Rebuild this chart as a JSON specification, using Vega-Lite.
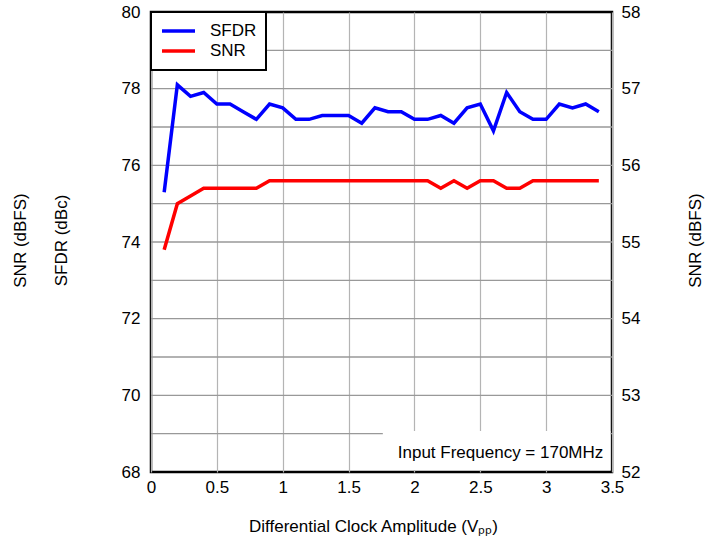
{
  "$schema": "https://vega.github.io/schema/vega-lite/v6.json",
  "width": 461,
  "height": 460,
  "autosize": "none",
  "padding": {"left": 151, "top": 12, "right": 104, "bottom": 66},
  "background": "white",
  "config": {
    "view": {"stroke": "black", "strokeWidth": 2.5},
    "font": "Liberation Sans",
    "axis": {
      "labelFont": "Liberation Sans",
      "labelFontSize": 17,
      "labelColor": "black",
      "titleFont": "Liberation Sans",
      "titleFontSize": 17,
      "titleFontWeight": "normal",
      "titleColor": "black",
      "ticks": false,
      "domain": false,
      "gridColor": "#b4b4b4",
      "gridWidth": 1.2,
      "gridOpacity": 1
    },
    "legend": {
      "labelFont": "Liberation Sans",
      "labelFontSize": 17,
      "labelColor": "black",
      "strokeWidth": 2
    }
  },
  "datasets": {
    "curves": [
      {"x": 0.1, "SFDR": 75.3, "SNR": 54.9},
      {"x": 0.2, "SFDR": 78.1, "SNR": 55.5},
      {"x": 0.3, "SFDR": 77.8, "SNR": 55.6},
      {"x": 0.4, "SFDR": 77.9, "SNR": 55.7},
      {"x": 0.5, "SFDR": 77.6, "SNR": 55.7},
      {"x": 0.6, "SFDR": 77.6, "SNR": 55.7},
      {"x": 0.7, "SFDR": 77.4, "SNR": 55.7},
      {"x": 0.8, "SFDR": 77.2, "SNR": 55.7},
      {"x": 0.9, "SFDR": 77.6, "SNR": 55.8},
      {"x": 1.0, "SFDR": 77.5, "SNR": 55.8},
      {"x": 1.1, "SFDR": 77.2, "SNR": 55.8},
      {"x": 1.2, "SFDR": 77.2, "SNR": 55.8},
      {"x": 1.3, "SFDR": 77.3, "SNR": 55.8},
      {"x": 1.4, "SFDR": 77.3, "SNR": 55.8},
      {"x": 1.5, "SFDR": 77.3, "SNR": 55.8},
      {"x": 1.6, "SFDR": 77.1, "SNR": 55.8},
      {"x": 1.7, "SFDR": 77.5, "SNR": 55.8},
      {"x": 1.8, "SFDR": 77.4, "SNR": 55.8},
      {"x": 1.9, "SFDR": 77.4, "SNR": 55.8},
      {"x": 2.0, "SFDR": 77.2, "SNR": 55.8},
      {"x": 2.1, "SFDR": 77.2, "SNR": 55.8},
      {"x": 2.2, "SFDR": 77.3, "SNR": 55.7},
      {"x": 2.3, "SFDR": 77.1, "SNR": 55.8},
      {"x": 2.4, "SFDR": 77.5, "SNR": 55.7},
      {"x": 2.5, "SFDR": 77.6, "SNR": 55.8},
      {"x": 2.6, "SFDR": 76.9, "SNR": 55.8},
      {"x": 2.7, "SFDR": 77.9, "SNR": 55.7},
      {"x": 2.8, "SFDR": 77.4, "SNR": 55.7},
      {"x": 2.9, "SFDR": 77.2, "SNR": 55.8},
      {"x": 3.0, "SFDR": 77.2, "SNR": 55.8},
      {"x": 3.1, "SFDR": 77.6, "SNR": 55.8},
      {"x": 3.2, "SFDR": 77.5, "SNR": 55.8},
      {"x": 3.3, "SFDR": 77.6, "SNR": 55.8},
      {"x": 3.4, "SFDR": 77.4, "SNR": 55.8}
    ],
    "hgrid": [
      {"v": 69}, {"v": 70}, {"v": 71}, {"v": 72}, {"v": 73}, {"v": 74},
      {"v": 75}, {"v": 76}, {"v": 77}, {"v": 78}, {"v": 79}
    ],
    "note": [
      {"x": 1.76, "x2": 3.488, "y": 68.05, "y2": 69.07, "tx": 3.434, "ty": 68.49, "label": "Input Frequency = 170MHz"}
    ]
  },
  "data": {"name": "curves"},
  "layer": [
    {
      "layer": [
        {
          "data": {"name": "hgrid"},
          "mark": {"type": "rule", "color": "#999999", "strokeWidth": 1.4},
          "encoding": {
            "y": {"field": "v", "type": "quantitative"}
          }
        },
        {
          "mark": {"type": "line", "strokeWidth": 3.5, "clip": true},
          "encoding": {
            "x": {
              "field": "x",
              "type": "quantitative",
              "scale": {"domain": [0, 3.5], "nice": false, "zero": false},
              "axis": {
                "values": [0, 0.5, 1, 1.5, 2, 2.5, 3, 3.5],
                "format": ".2~f",
                "grid": true,
                "labelFlush": false,
                "labelOverlap": false,
                "labelPadding": 7,
                "title": "Differential Clock Amplitude (Vₚₚ)",
                "titleX": 222,
                "titleY": 54,
                "titleBaseline": "middle",
                "titleAnchor": "middle"
              }
            },
            "y": {
              "field": "SFDR",
              "type": "quantitative",
              "scale": {"domain": [68, 80], "nice": false, "zero": false},
              "axis": {
                "orient": "left",
                "values": [68, 70, 72, 74, 76, 78, 80],
                "grid": false,
                "labelPadding": 11,
                "title": ["SNR (dBFS)", "SFDR (dBc)"],
                "titleLineHeight": 41,
                "titleAngle": -90,
                "titleBaseline": "middle",
                "titleAlign": "center",
                "titleX": -131,
                "titleY": 228
              }
            },
            "color": {
              "datum": "SFDR",
              "type": "nominal",
              "scale": {"domain": ["SFDR", "SNR"], "range": ["#0000ff", "#ff0000"]},
              "legend": {
                "title": null,
                "orient": "none",
                "legendX": 0,
                "legendY": 0,
                "symbolType": "stroke",
                "symbolSize": 1089,
                "symbolStrokeWidth": 3.5,
                "labelOffset": 13,
                "padding": 9,
                "rowPadding": 0,
                "clipHeight": 20,
                "strokeColor": "black",
                "fillColor": "white"
              }
            }
          }
        },
        {
          "data": {"name": "note"},
          "mark": {"type": "rect", "fill": "white"},
          "encoding": {
            "x": {"field": "x", "type": "quantitative"},
            "x2": {"field": "x2"},
            "y": {"field": "y", "type": "quantitative"},
            "y2": {"field": "y2"}
          }
        },
        {
          "data": {"name": "note"},
          "mark": {"type": "text", "align": "right", "baseline": "middle", "fontSize": 17, "font": "Liberation Sans", "fill": "black"},
          "encoding": {
            "x": {"field": "tx", "type": "quantitative"},
            "y": {"field": "ty", "type": "quantitative"},
            "text": {"field": "label"}
          }
        }
      ]
    },
    {
      "mark": {"type": "line", "strokeWidth": 3.5, "clip": true},
      "encoding": {
        "x": {"field": "x", "type": "quantitative"},
        "y": {
          "field": "SNR",
          "type": "quantitative",
          "scale": {"domain": [52, 58], "nice": false, "zero": false},
          "axis": {
            "orient": "right",
            "values": [52, 53, 54, 55, 56, 57, 58],
            "format": "d",
            "grid": false,
            "labelPadding": 9,
            "title": "SNR (dBFS)",
            "titleAngle": -90,
            "titleBaseline": "middle",
            "titleAlign": "center",
            "titleX": 83,
            "titleY": 228
          }
        },
        "color": {"datum": "SNR", "type": "nominal"}
      }
    }
  ],
  "resolve": {"scale": {"y": "independent"}, "axis": {"y": "independent"}}
}
